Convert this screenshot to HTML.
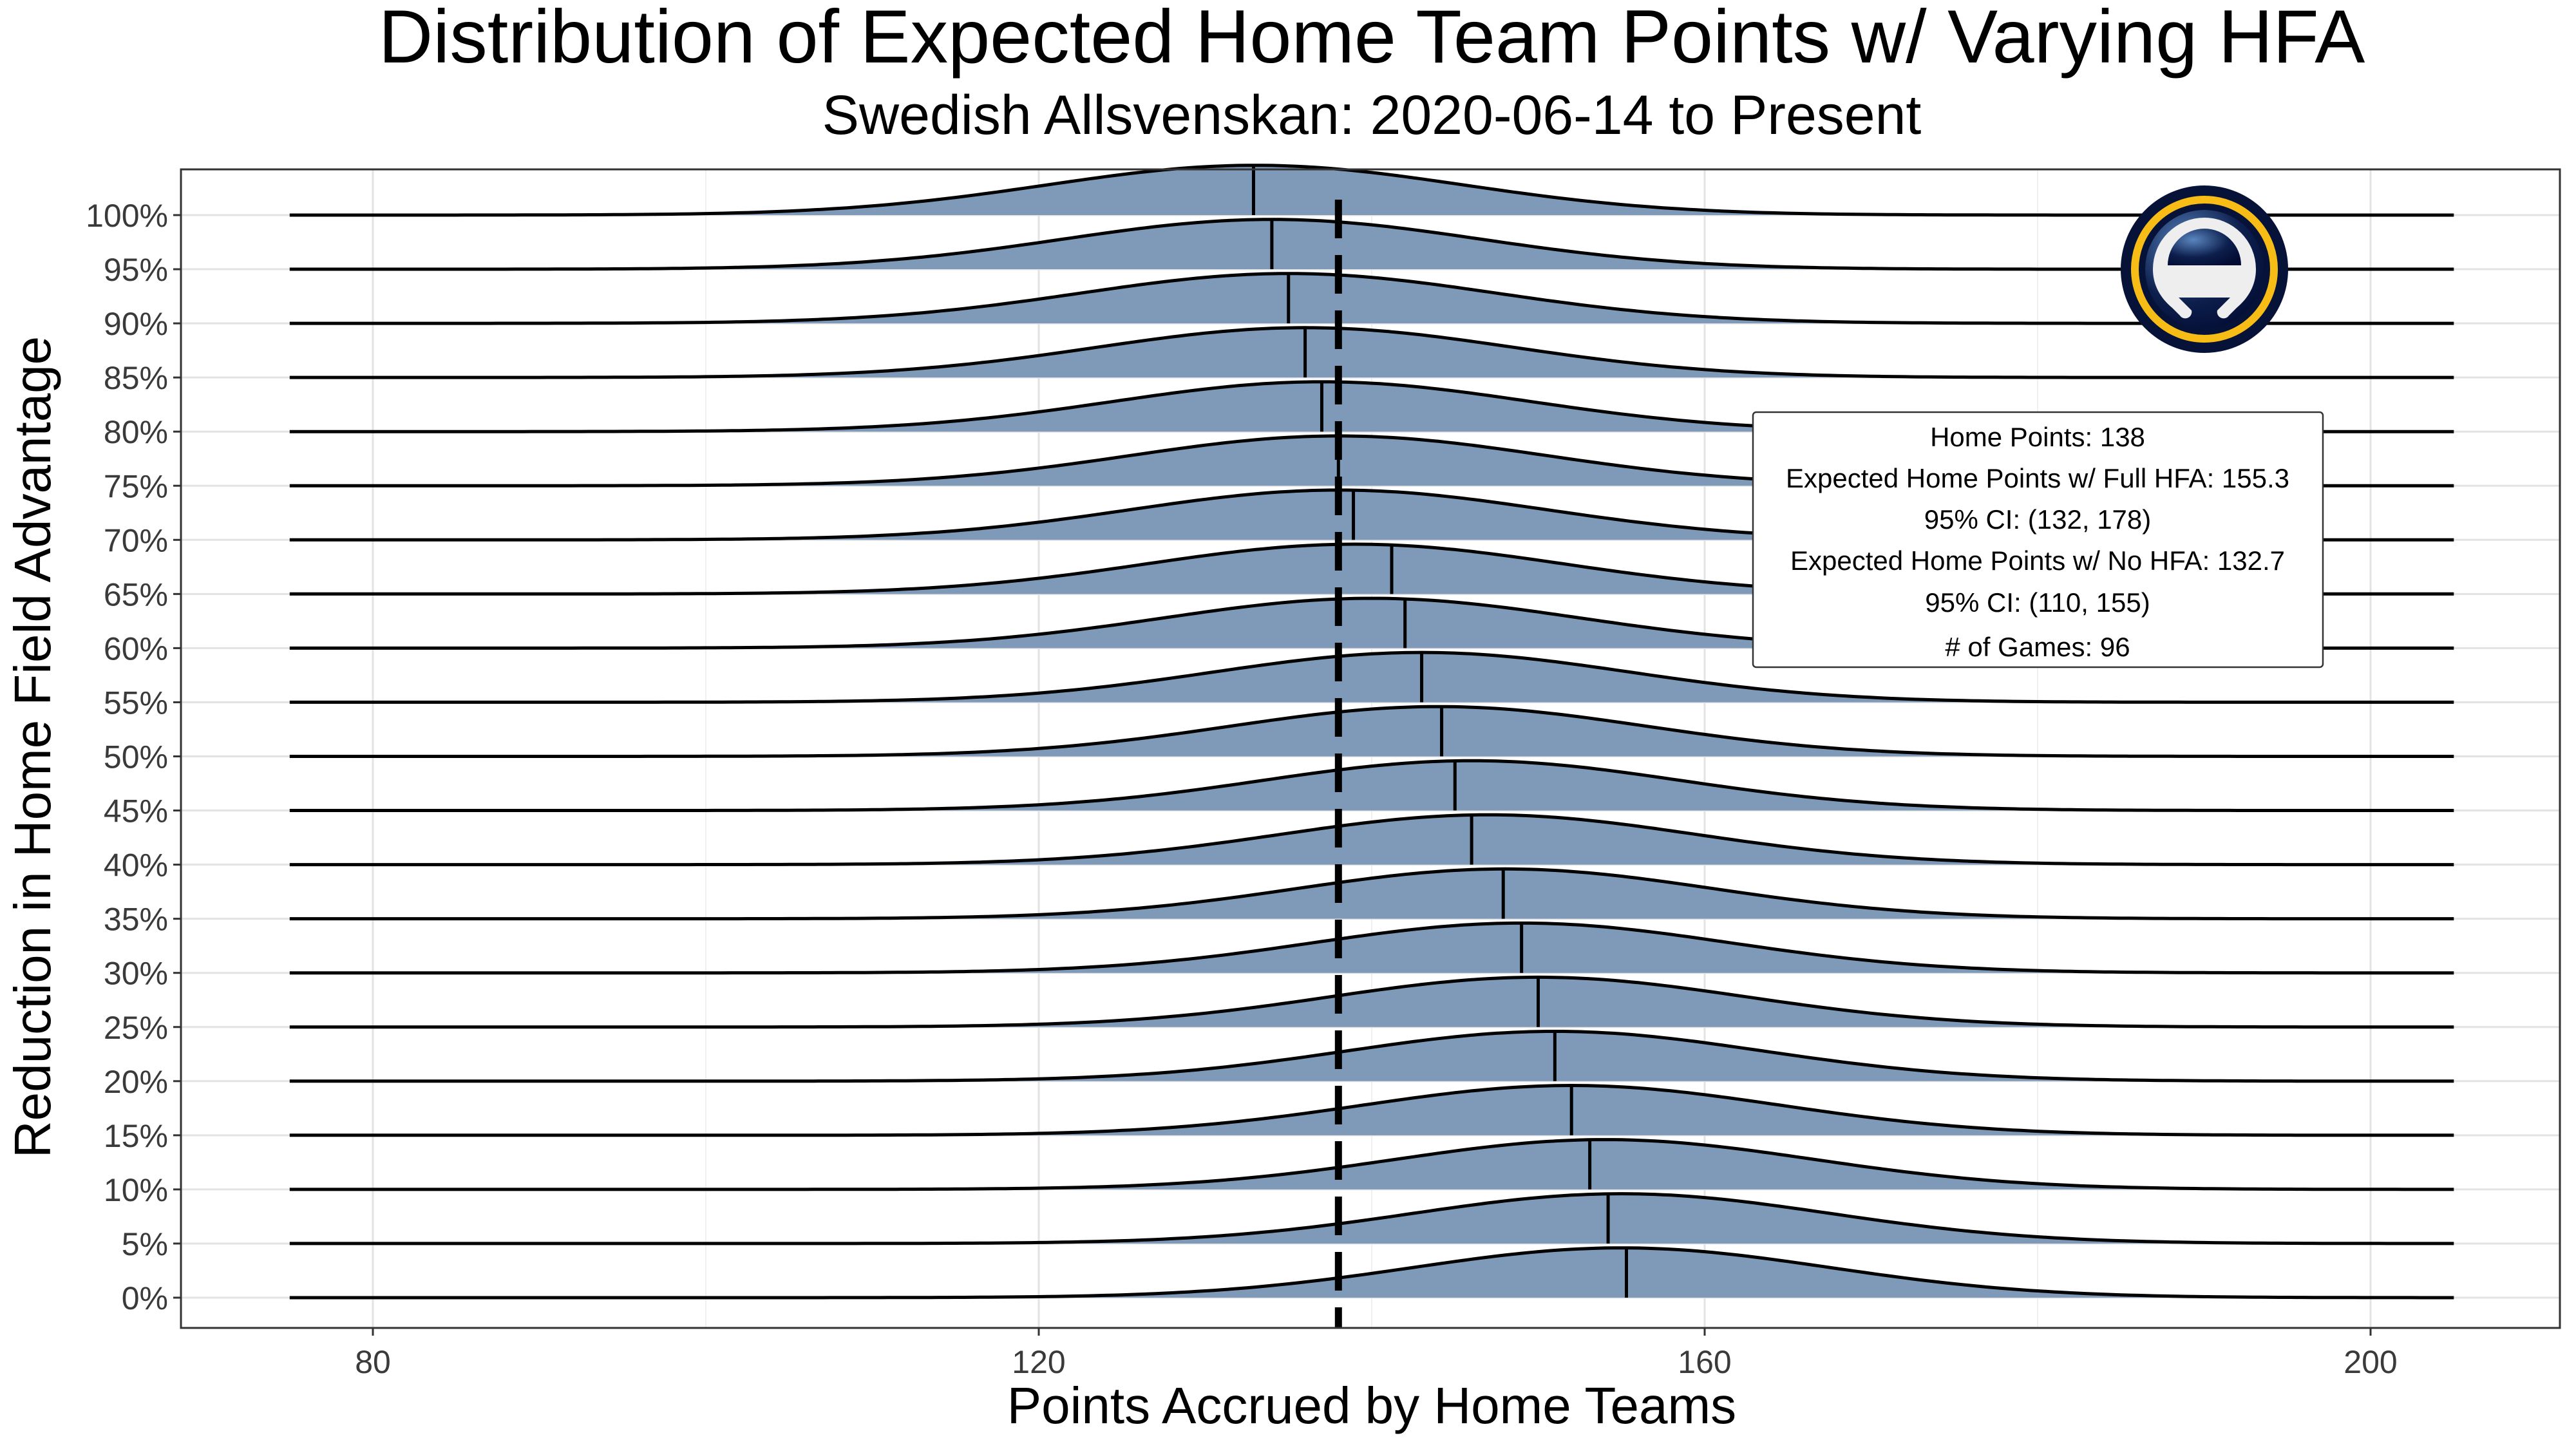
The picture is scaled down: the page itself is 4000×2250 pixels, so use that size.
<!DOCTYPE html>
<html><head><meta charset="utf-8"><style>
html,body{margin:0;padding:0;background:#fff}
svg{display:block;font-family:"Liberation Sans",sans-serif}
</style></head><body>
<svg id="chart" width="4000" height="2250" viewBox="0 0 4000 2250">
<text x="2130" y="97" font-size="117" text-anchor="middle">Distribution of Expected Home Team Points w/ Varying HFA</text>
<text x="2130" y="208" font-size="86" text-anchor="middle">Swedish Allsvenskan: 2020-06-14 to Present</text>
<g id="plot"></g>
<text x="2130" y="2210" font-size="80" text-anchor="middle">Points Accrued by Home Teams</text>
<text transform="translate(78,1160) rotate(-90)" font-size="80" text-anchor="middle">Reduction in Home Field Advantage</text>
<g>
<defs><radialGradient id="lg" cx="0.35" cy="0.3" r="0.8"><stop offset="0" stop-color="#5a86c0"/><stop offset="0.6" stop-color="#0d1f4d"/><stop offset="1" stop-color="#020c33"/></radialGradient></defs>
<circle cx="3423" cy="418" r="130" fill="#061238"/>
<circle cx="3423" cy="418" r="108" fill="none" stroke="#f7bd16" stroke-width="12"/>
<circle cx="3423" cy="418" r="92" fill="url(#lg)"/>
<path d="M3343,418 a80,80 0 1 1 160,0 c0,25 -12,45 -30,60 l-12,12 a10,10 0 0 1 -18,-8 l20,-20 h-80 l20,20 a10,10 0 0 1 -18,8 l-12,-12 c-18,-15 -30,-35 -30,-60z" fill="#eeeeee"/>
<path d="M3366,412 a57,57 0 0 1 114,0z" fill="url(#lg)"/>
</g>
<g>
<rect x="2722" y="640" width="885" height="396" fill="#fff" stroke="#333" stroke-width="2.5" rx="5"/>
<g font-size="42" text-anchor="middle">
<text x="3164" y="693">Home Points: 138</text>
<text x="3164" y="757">Expected Home Points w/ Full HFA: 155.3</text>
<text x="3164" y="821">95% CI: (132, 178)</text>
<text x="3164" y="885">Expected Home Points w/ No HFA: 132.7</text>
<text x="3164" y="950">95% CI: (110, 155)</text>
<text x="3164" y="1019"># of Games: 96</text>
</g></g>
</svg>
<script>
const rowLabels = ["0%","5%","10%","15%","20%","25%","30%","35%","40%","45%","50%","55%","60%","65%","70%","75%","80%","85%","90%","95%","100%"];
const medians = [155.3,154.2,153.1,152.0,151.0,150.0,149.0,147.9,146.0,145.0,144.2,143.0,142.0,141.2,138.9,138.0,137.0,136.0,135.0,134.0,132.9];
const peaks = [155,155,154,152,151,150,149,148,147,146,144,143,140,139,138,138,137,136,135,134,133];
const sds = [12.5,12.5,12.5,12.5,12.5,12.5,12.5,12.5,12.5,12.5,12.5,12.5,12.5,12.5,12.5,12.5,12.5,12.5,12.5,12.5,12.5];
const xTicks = [80,120,160,200];
const xMinor = [100,140,180];
const homePoints = 138;
const xRange = [75,205];

const NS="http://www.w3.org/2000/svg";
const plot=document.getElementById('plot');
const L=281,R=3975,T=263,B=2062;
const X=v=>579+(v-80)*25.85;
const Y=i=>2015-i*84.05;
const H=84.05*0.92;
function mk(t,a,p){const e=document.createElementNS(NS,t);for(const k in a)e.setAttribute(k,a[k]);(p||plot).appendChild(e);return e;}
mk('rect',{x:L,y:T,width:R-L,height:B-T,fill:'#fff'});
xMinor.forEach(v=>{const g=mk('line',{x1:X(v),x2:X(v),y1:T,y2:B,stroke:'#f0f0f0','stroke-width':2});

});
xTicks.forEach(v=>{const g=mk('line',{x1:X(v),x2:X(v),y1:T,y2:B,stroke:'#e3e3e3','stroke-width':3});


mk('line',{x1:X(v),x2:X(v),y1:B,y2:B+12,stroke:'#333','stroke-width':3});
const lb=mk('text',{x:X(v),y:B+70,'font-size':50,'text-anchor':'middle',fill:'#3a3a3a'});lb.textContent=v;

});
rowLabels.forEach((l,i)=>{const g=mk('line',{x1:L,x2:R,y1:Y(i),y2:Y(i),stroke:'#e3e3e3','stroke-width':3});


mk('line',{x1:L-12,x2:L,y1:Y(i),y2:Y(i),stroke:'#333','stroke-width':3});
const t=mk('text',{x:L-20,y:Y(i)+18,'font-size':50,'text-anchor':'end',fill:'#3a3a3a'});t.textContent=l;

});
function dens(i,v){const s=sds[i];const z=(v-peaks[i])/s;return Math.exp(-0.5*z*z);}
for(let i=rowLabels.length-1;i>=0;i--){
 const g=mk('g',{});
 
 
 let pts=[];for(let v=xRange[0];v<=xRange[1]+1e-9;v+=0.5)pts.push([X(v),Y(i)-H*dens(i,v)]);
 const line=pts.map((p,k)=>(k?'L':'M')+p[0].toFixed(1)+','+p[1].toFixed(1)).join('');
 mk('path',{d:line+'L'+X(xRange[1])+','+Y(i)+'L'+X(xRange[0])+','+Y(i)+'Z',fill:'#7f9ab9'},g);
 mk('path',{d:line,fill:'none',stroke:'#000','stroke-width':5},g);
 const m=mk('line',{x1:X(medians[i]),x2:X(medians[i]),y1:Y(i),y2:Y(i)-H*dens(i,medians[i]),stroke:'#000','stroke-width':5},g);
 
 
}
const d=mk('line',{x1:X(homePoints),x2:X(homePoints),y1:310,y2:B,stroke:'#000','stroke-width':11,'stroke-dasharray':'60,26'});


mk('rect',{x:L,y:T,width:R-L,height:B-T,fill:'none',stroke:'#333','stroke-width':3});
</script>
</body></html>
